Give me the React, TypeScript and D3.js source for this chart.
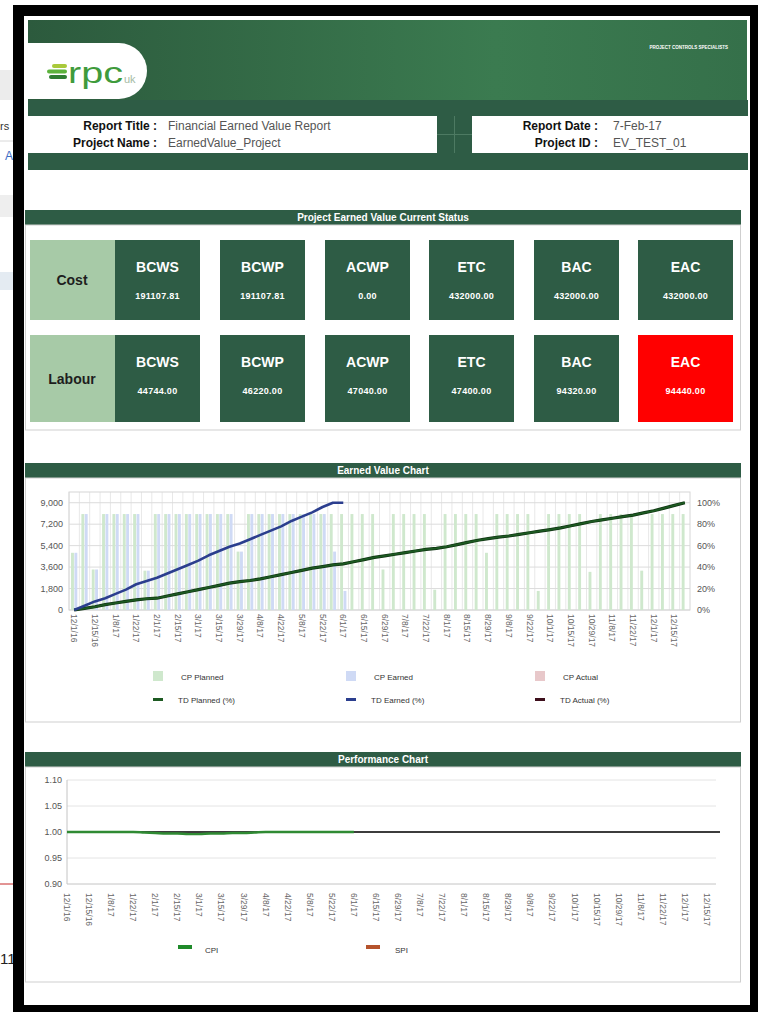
import * as d3 from "d3";
import { useEffect } from "react";

// tick labels on the date axis (every second period)
const tickDates = [
  "12/1/16", "12/15/16", "1/8/17", "1/22/17", "2/1/17", "2/15/17", "3/1/17", "3/15/17",
  "3/29/17", "4/8/17", "4/22/17", "5/8/17", "5/22/17", "6/1/17", "6/15/17", "6/29/17",
  "7/8/17", "7/22/17", "8/1/17", "8/15/17", "8/29/17", "9/8/17", "9/22/17", "10/1/17",
  "10/15/17", "10/29/17", "11/8/17", "11/22/17", "12/1/17", "12/15/17",
];

// current period values (left axis)
const cpPlanned = [
  4800, 8050, 3400, 8050, 8050, 8050, 8050, 3300, 8050, 8050,
  8050, 8050, 8050, 8050, 8050, 8050, 4900, 8050, 8050, 8050,
  8050, 8050, 8050, 8050, 8050, 8050, 8050, 8050, 8050, 8050,
  3400, 8050, 8050, 8050, 8050, 1700, 8050, 8050, 8050, 8050,
  4800, 8050, 8050, 8050, 8050, 1600, 8050, 8050, 8050, 8050,
  3200, 8050, 8050, 8050, 8050, 3300, 8050, 8050, 8050, 8050,
];
const cpEarned = [
  4800, 8050, 3400, 8050, 8050, 8050, 8050, 3300, 8050, 8050,
  8050, 8050, 8050, 8050, 8050, 8050, 4900, 8050, 8050, 8050,
  8050, 8050, 8050, 8050, 8050, 4900, 1600,
];

// to date values (right axis, %)
const tdPlanned = [
  0, 1.5, 3, 5, 6.5, 8, 9.5, 10.5, 11, 13,
  15, 17, 19, 21, 23, 25, 26.5, 27.5, 29, 31,
  33, 35, 37, 39, 40.5, 42, 43, 45, 47, 49,
  50.5, 52, 53.5, 55, 56.5, 57.5, 59, 61, 63, 65,
  66.5, 68, 69, 70.5, 72, 73.5, 75, 76.5, 78.5, 80.5,
  82.5, 84, 85.5, 87, 88.5, 90.5, 92.5, 95, 97.5, 100,
];
const tdEarned = [
  0, 4, 8, 11, 15, 19, 24, 27, 30, 34,
  38, 42, 46, 51, 55, 59, 62, 66, 70, 74,
  78, 83, 87, 91, 96, 100, 100,
];

// performance indices
const cpi = [
  1, 1, 1, 1, 1, 1, 1, 0.999, 0.998, 0.997,
  0.997, 0.996, 0.996, 0.997, 0.997, 0.998, 0.998, 0.999, 1, 1,
  1, 1, 1, 1, 1, 1, 1,
];
const spi = [
  1, 1, 1, 1, 1, 1, 1, 1, 1, 1,
  1, 1, 1, 1, 1, 1, 1, 1, 1, 1,
  1, 1, 1, 1, 1, 1, 1,
];

// status tiles
const metrics = ["BCWS", "BCWP", "ACWP", "ETC", "BAC", "EAC"];
const costValues = ["191107.81", "191107.81", "0.00", "432000.00", "432000.00", "432000.00"];
const labourValues = ["44744.00", "46220.00", "47040.00", "47400.00", "94320.00", "94440.00"];
const labourAlert = [false, false, false, false, false, true];

const font = "'Liberation Sans', Arial, Helvetica, sans-serif";
const dark = "#2e5c45";

function SectionHeader({ y, title }: { y: number; title: string }) {
  return (
    <g>
      <rect x={25} y={y} width={716} height={15} fill={dark} />
      <text x={383} y={y + 11} textAnchor="middle" fill="#fff" fontSize={10} fontWeight="bold">{title}</text>
    </g>
  );
}

function StatusTiles() {
  const boxX = [115, 220, 325, 429, 534, 638];
  const boxW = [85, 85, 85, 85, 85, 95];
  const rows = [
    { label: "Cost", y: 240, h: 80, values: costValues, alert: [false, false, false, false, false, false] },
    { label: "Labour", y: 335, h: 87, values: labourValues, alert: labourAlert },
  ];
  return (
    <g>
      <SectionHeader y={210} title="Project Earned Value Current Status" />
      <rect x={25.5} y={225} width={715} height={205} fill="none" stroke="#cfcfcf" />
      {rows.map((r) => (
        <g key={r.label}>
          <rect x={30} y={r.y} width={85} height={r.h} fill="#a7caa7" />
          <text x={72} y={r.y + r.h / 2 + 5} textAnchor="middle" fontSize={14} fontWeight="bold" fill="#1e1e1e">{r.label}</text>
          {metrics.map((m, i) => (
            <g key={m}>
              <rect x={boxX[i]} y={r.y} width={boxW[i]} height={r.h} fill={r.alert[i] ? "#ff0000" : dark} />
              <text x={boxX[i] + boxW[i] / 2} y={r.y + 32} textAnchor="middle" fontSize={14} fontWeight="bold" fill="#fff">{m}</text>
              <text x={boxX[i] + boxW[i] / 2} y={r.y + 59} textAnchor="middle" fontSize={9} fontWeight="bold" fill="#fff" letterSpacing={0.3}>{r.values[i]}</text>
            </g>
          ))}
        </g>
      ))}
    </g>
  );
}

function EarnedValueChart() {
  const left = 69, right = 690, top = 492, bottom = 610;
  const idx = d3.range(cpPlanned.length);
  const x = d3.scaleBand<number>().domain(idx).range([left, right]);
  const bw = x.bandwidth();
  const sub = d3.scaleBand().domain(["planned", "earned"]).range([0, bw]).paddingInner(0.15).paddingOuter(0.6);
  const yL = d3.scaleLinear().domain([0, 9900]).range([bottom, top]);
  const yR = d3.scaleLinear().domain([0, 110]).range([bottom, top]);
  const leftTicks = d3.range(0, 9001, 1800);
  const rightTicks = d3.range(0, 101, 20);
  const line = d3.line<number>().x((_, i) => (x(i) as number) + bw / 2).y((v) => yR(v));
  const legend = [
    { x: 153, label: "CP Planned", color: "#cfe8cd", kind: "box" },
    { x: 346, label: "CP Earned", color: "#cfdaf5", kind: "box" },
    { x: 535, label: "CP Actual", color: "#e8c8ca", kind: "box" },
    { x: 153, label: "TD Planned (%)", color: "#1d5a22", kind: "line" },
    { x: 346, label: "TD Earned (%)", color: "#2b3e8e", kind: "line" },
    { x: 535, label: "TD Actual (%)", color: "#3e0f1c", kind: "line" },
  ];
  return (
    <g>
      <SectionHeader y={463} title="Earned Value Chart" />
      <rect x={25.5} y={478} width={715} height={244} fill="none" stroke="#cfcfcf" />
      {/* grid */}
      {idx.map((i) => (
        <line key={"v" + i} x1={(x(i) as number)} x2={(x(i) as number)} y1={top} y2={bottom} stroke="#e8e8e8" />
      ))}
      {leftTicks.map((t) => (
        <line key={"h" + t} x1={left} x2={right} y1={yL(t)} y2={yL(t)} stroke="#dcdcdc" />
      ))}
      <rect x={left} y={top} width={right - left} height={bottom - top} fill="none" stroke="#d6d6d6" />
      {/* bars */}
      {cpPlanned.map((v, i) => (
        <rect key={"p" + i} x={(x(i) as number) + (sub("planned") as number)} y={yL(v)} width={sub.bandwidth()} height={yL(0) - yL(v)} fill="#cfe8cd" />
      ))}
      {cpEarned.map((v, i) => (
        <rect key={"e" + i} x={(x(i) as number) + (sub("earned") as number)} y={yL(v)} width={sub.bandwidth()} height={yL(0) - yL(v)} fill="#cfdaf5" />
      ))}
      {/* lines */}
      <path d={line(tdPlanned) as string} fill="none" stroke="#0f3312" strokeWidth={3.2} />
      <path d={line(tdPlanned) as string} fill="none" stroke="#1d5a22" strokeWidth={1.8} />
      <path d={line(tdEarned) as string} fill="none" stroke="#2b3e8e" strokeWidth={2.6} strokeLinejoin="round" />
      {/* axes */}
      {leftTicks.map((t) => (
        <text key={"l" + t} x={63} y={yL(t) + 3} textAnchor="end" fontSize={9} fill="#555">{d3.format(",")(t)}</text>
      ))}
      {rightTicks.map((t) => (
        <text key={"r" + t} x={697} y={yR(t) + 3} fontSize={9} fill="#555">{t + "%"}</text>
      ))}
      {tickDates.map((d, k) => (
        <text key={d} transform={`translate(${(x(k * 2) as number) + bw / 2 - 3},614) rotate(90)`} fontSize={8.5} fill="#666">{d}</text>
      ))}
      {/* legend */}
      {legend.map((l, k) => {
        const ly = k < 3 ? 677 : 700;
        return (
          <g key={l.label}>
            {l.kind === "box"
              ? <rect x={l.x} y={ly - 6} width={10} height={10} fill={l.color} />
              : <rect x={l.x} y={ly - 2} width={10} height={3} fill={l.color} />}
            <text x={l.x + (k < 3 ? 28 : 25)} y={ly + 3} fontSize={8} fill="#333">{l.label}</text>
          </g>
        );
      })}
    </g>
  );
}

function PerformanceChart() {
  const left = 67, right = 718, top = 780, bottom = 884;
  const px = d3.scalePoint<number>().domain(d3.range(cpPlanned.length)).range([left, right]);
  const py = d3.scaleLinear().domain([0.9, 1.1]).range([bottom, top]);
  const ticks = [0.9, 0.95, 1.0, 1.05, 1.1];
  const line = d3.line<number>().x((_, i) => px(i) as number).y((v) => py(v)).curve(d3.curveMonotoneX);
  return (
    <g>
      <SectionHeader y={752} title="Performance Chart" />
      <rect x={25.5} y={767} width={715} height={215} fill="none" stroke="#cfcfcf" />
      {ticks.map((t) => (
        <g key={t}>
          <line x1={left} x2={716} y1={py(t)} y2={py(t)} stroke={t === 0.9 ? "#c4c4c4" : "#e4e4e4"} />
          <text x={62} y={py(t) + 3} textAnchor="end" fontSize={9} fill="#555">{d3.format(".2f")(t)}</text>
        </g>
      ))}
      <line x1={left} x2={left} y1={top} y2={bottom} stroke="#c4c4c4" />
      <path d={line(spi) as string} fill="none" stroke="#b5532c" strokeWidth={2} />
      <line x1={left} x2={720} y1={py(1)} y2={py(1)} stroke="#3c3c3c" strokeWidth={2.2} />
      <path d={line(cpi) as string} fill="none" stroke="#2f8a33" strokeWidth={2.4} />
      {tickDates.map((d, k) => (
        <text key={d} transform={`translate(${(px(k * 2) as number) - 3},893) rotate(90)`} fontSize={8.5} fill="#666">{d}</text>
      ))}
      <rect x={178} y={945} width={14} height={4} fill="#1f8a2a" />
      <text x={205} y={953} fontSize={8} fill="#333">CPI</text>
      <rect x={366} y={945} width={14} height={4} fill="#b5532c" />
      <text x={395} y={953} fontSize={8} fill="#333">SPI</text>
    </g>
  );
}

function Header() {
  return (
    <g>
      <defs>
        <linearGradient id="hdr" x1="0" x2="1" y1="0" y2="0">
          <stop offset="0" stopColor="#2c5a3d" />
          <stop offset="0.65" stopColor="#3b7b50" />
          <stop offset="1" stopColor="#35704a" />
        </linearGradient>
      </defs>
      <rect x={28} y={20} width={719} height={80} fill="url(#hdr)" />
      <path d="M28,43 H119 A28,28 0 0 1 119,99 H28 Z" fill="#fff" />
      <rect x={52} y={64} width={15} height={4} rx={2} fill="#a9c93a" />
      <rect x={47} y={69.5} width={20} height={4} rx={2} fill="#5cb33c" />
      <rect x={49} y={75} width={18} height={4} rx={2} fill="#2e7d32" />
      <text x={68} y={83} fontSize={30} fill="#3f9b3c" textLength={55} lengthAdjust="spacingAndGlyphs">rpc</text>
      <text x={124} y={83} fontSize={11} fill="#a5bca5">uk</text>
      <text x={728} y={49} textAnchor="end" fontSize={4.5} fill="#fff" fontWeight="bold">PROJECT CONTROLS SPECIALISTS</text>
      <rect x={28} y={100} width={720} height={16} fill={dark} />
      <rect x={28} y={153} width={720} height={17} fill={dark} />
      <rect x={437} y={116} width={35} height={37} fill={dark} />
      <line x1={454.5} x2={454.5} y1={116} y2={153} stroke="#4d7a62" />
      <line x1={437} x2={472} y1={134.5} y2={134.5} stroke="#4d7a62" />
      <g fontSize={12}>
        <text x={157} y={130} textAnchor="end" fontWeight="bold" fill="#111">Report Title :</text>
        <text x={157} y={147} textAnchor="end" fontWeight="bold" fill="#111">Project Name :</text>
        <text x={168} y={130} fill="#555">Financial Earned Value Report</text>
        <text x={168} y={147} fill="#555">EarnedValue_Project</text>
        <text x={598} y={130} textAnchor="end" fontWeight="bold" fill="#111">Report Date :</text>
        <text x={598} y={147} textAnchor="end" fontWeight="bold" fill="#111">Project ID :</text>
        <text x={613} y={130} fill="#555">7-Feb-17</text>
        <text x={613} y={147} fill="#555">EV_TEST_01</text>
      </g>
    </g>
  );
}

export default function App() {
  useEffect(() => {
    document.body.style.margin = "0";
  }, []);
  return (
    <svg width={759} height={1013} style={{ position: "absolute", left: 0, top: 0, fontFamily: font }}>
      <rect width={759} height={1013} fill="#fff" />
      {/* window behind, peeking out at the left */}
      <rect x={0} y={70} width={14} height={30} fill="#ececec" />
      <text x={0} y={130} fontSize={11} fill="#333">rs</text>
      <line x1={0} x2={14} y1={141} y2={141} stroke="#d8d8d8" />
      <text x={5} y={160} fontSize={12} fill="#3b6cc4">A</text>
      <rect x={0} y={195} width={14} height={22} fill="#eeeeee" />
      <rect x={0} y={272} width={14} height={18} fill="#e4ebf2" />
      <line x1={0} x2={14} y1={884} y2={884} stroke="#c62828" />
      <text x={0} y={964} fontSize={15} fill="#222">11</text>
      {/* black frame */}
      <rect x={13} y={5} width={745} height={1007} fill="#000" />
      <rect x={24} y={16} width={726} height={989} fill="#fff" />
      <Header />
      <StatusTiles />
      <EarnedValueChart />
      <PerformanceChart />
    </svg>
  );
}
